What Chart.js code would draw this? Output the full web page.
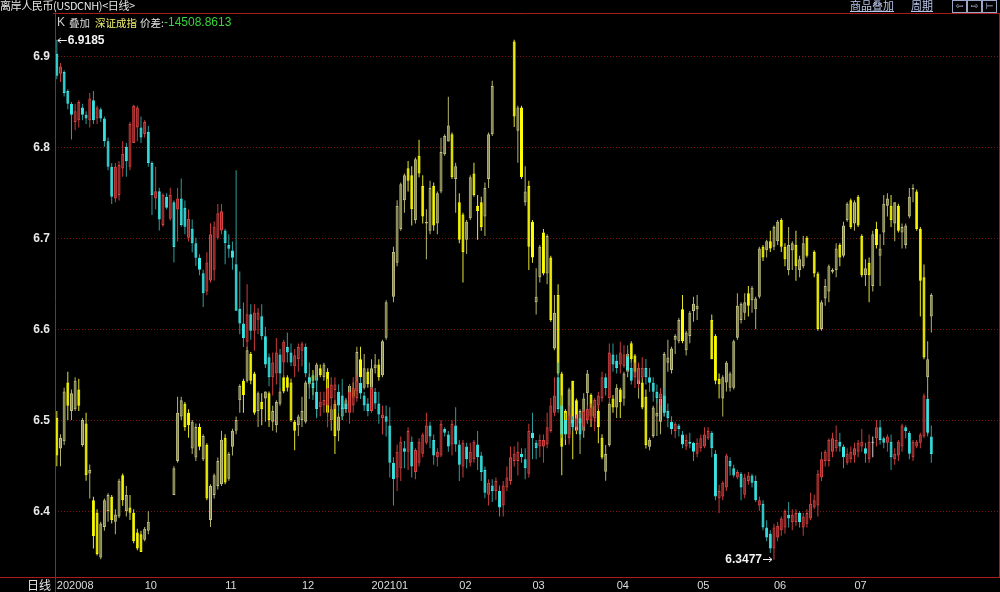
<!DOCTYPE html>
<html><head><meta charset="utf-8">
<script src="https://cdn.jsdelivr.net/npm/chart.js@4/dist/chart.umd.min.js"></script>
<style>
html,body{margin:0;padding:0;background:#000;overflow:hidden}
#wrap{position:relative;width:1000px;height:592px;background:#000}
#c{position:absolute;left:0;top:0}
.t{position:absolute;white-space:nowrap;font-family:"Noto Sans CJK SC","DejaVu Sans",sans-serif;font-size:11px;line-height:13px}
.n{font-family:"Liberation Sans",Arial,sans-serif}
.u{text-decoration:underline;color:#b8c4e8}
.bx{position:absolute;top:0;width:13px;height:11px;border:1px solid #9aa6c8;color:#b8c4e8;font-size:9px;line-height:11px;text-align:center;font-family:"DejaVu Sans",sans-serif}
</style></head><body>
<div id="wrap">
<canvas id="c" width="1000" height="592"></canvas>
<div class="t" style="left:0;top:-1px;color:#e6e6e6;letter-spacing:-0.4px">离岸人民币(USDCNH)&lt;日线&gt;</div>
<div class="t n" style="left:57px;top:16px;color:#d0d0d0;font-size:12px">K</div>
<div class="t" style="left:69px;top:16px;color:#d8d8d8;font-size:10.5px">叠加</div>
<div class="t" style="left:95px;top:16px;color:#f0f070;font-size:10.5px">深证成指</div>
<div class="t" style="left:140px;top:16px;color:#e0e0e0;font-size:10.5px">价差:</div>
<div class="t n" style="left:164px;top:16px;color:#3cd23c;font-size:12px">-14508.8613</div>
<div class="t u" style="left:850px;top:-1px">商品叠加</div>
<div class="t u" style="left:911px;top:-1px">周期</div>
<div class="bx" style="left:952px">⇦</div>
<div class="bx" style="left:967px">⇨</div>
<div class="bx" style="left:982px">⊢</div>
<div class="t" style="left:27px;top:578px;color:#e6e6e6;font-size:12px">日线</div>
</div>
<script>
// ---- tick labels ----
const monthIdx = [0,24,46,67,86,110,130,153,175,196,218];
const monthLabels = ['202008','10','11','12','202101','02','03','04','05','06','07'];
const yTicks = [6.4,6.5,6.6,6.7,6.8,6.9];
const N_SLOTS = 258;

// ---- USDCNH daily OHLC ----
const usdO = [6.903,6.881,6.883,6.862,6.848,6.828,6.830,6.844,6.836,6.830,
6.852,6.832,6.842,6.832,6.807,6.779,6.744,6.748,6.777,6.801,
6.779,6.805,6.822,6.822,6.815,6.817,6.783,6.744,6.752,6.715,
6.746,6.722,6.740,6.732,6.744,6.734,6.701,6.711,6.695,6.679,
6.662,6.642,6.654,6.666,6.701,6.709,6.709,6.693,6.687,6.672,
6.623,6.607,6.587,6.617,6.599,6.611,6.615,6.593,6.570,6.548,
6.552,6.573,6.564,6.581,6.575,6.560,6.568,6.577,6.581,6.548,
6.542,6.532,6.515,6.517,6.517,6.525,6.534,6.532,6.528,6.519,
6.509,6.517,6.525,6.542,6.528,6.519,6.511,6.532,6.519,6.503,
6.505,6.495,6.454,6.438,6.448,6.470,6.466,6.477,6.444,6.454,
6.464,6.476,6.495,6.479,6.460,6.462,6.491,6.485,6.474,6.495,
6.474,6.450,6.472,6.454,6.458,6.474,6.462,6.446,6.419,6.429,
6.423,6.423,6.407,6.427,6.434,6.456,6.456,6.464,6.458,6.442,
6.487,6.476,6.472,6.472,6.474,6.489,6.509,6.548,6.517,6.501,
6.481,6.501,6.493,6.503,6.493,6.501,6.501,6.503,6.517,6.525,
6.548,6.525,6.573,6.566,6.562,6.560,6.571,6.558,6.548,6.544,
6.548,6.558,6.548,6.542,6.532,6.525,6.528,6.511,6.499,6.489,
6.495,6.485,6.472,6.477,6.476,6.464,6.470,6.472,6.481,6.487,
6.464,6.415,6.417,6.427,6.456,6.448,6.438,6.442,6.419,6.434,
6.440,6.434,6.407,6.409,6.383,6.376,6.360,6.372,6.380,6.383,
6.397,6.389,6.389,6.399,6.383,6.387,6.393,6.405,6.407,6.438,
6.456,6.456,6.466,6.470,6.477,6.472,6.454,6.458,6.462,6.466,
6.472,6.470,6.458,6.476,6.481,6.493,6.481,6.476,6.477,6.458,
6.462,6.472,6.493,6.487,6.460,6.472,6.476,6.483,6.524,6.483];
const usdH = [6.9185,6.893,6.885,6.864,6.850,6.848,6.852,6.848,6.840,6.860,
6.862,6.846,6.844,6.834,6.811,6.783,6.783,6.785,6.807,6.805,
6.828,6.847,6.846,6.834,6.830,6.824,6.785,6.779,6.756,6.750,
6.750,6.756,6.742,6.756,6.766,6.742,6.732,6.721,6.701,6.683,
6.666,6.685,6.717,6.719,6.738,6.738,6.711,6.705,6.697,6.775,
6.664,6.630,6.650,6.628,6.628,6.624,6.628,6.603,6.574,6.575,
6.591,6.579,6.589,6.597,6.585,6.579,6.585,6.587,6.585,6.564,
6.552,6.548,6.532,6.532,6.546,6.548,6.548,6.540,6.546,6.525,
6.540,6.548,6.550,6.548,6.532,6.525,6.540,6.536,6.532,6.517,
6.517,6.515,6.460,6.474,6.483,6.478,6.493,6.483,6.470,6.481,
6.487,6.509,6.499,6.485,6.470,6.501,6.493,6.489,6.501,6.515,
6.479,6.479,6.476,6.476,6.479,6.489,6.466,6.450,6.436,6.436,
6.438,6.429,6.434,6.450,6.472,6.472,6.477,6.470,6.470,6.497,
6.509,6.479,6.485,6.485,6.509,6.525,6.548,6.564,6.528,6.509,
6.517,6.505,6.507,6.509,6.513,6.517,6.519,6.525,6.532,6.554,
6.552,6.585,6.585,6.573,6.587,6.583,6.583,6.566,6.564,6.564,
6.570,6.568,6.558,6.548,6.540,6.536,6.536,6.519,6.505,6.499,
6.497,6.489,6.485,6.487,6.477,6.481,6.485,6.493,6.493,6.489,
6.468,6.430,6.434,6.464,6.460,6.452,6.446,6.444,6.442,6.444,
6.442,6.440,6.417,6.413,6.391,6.380,6.387,6.389,6.395,6.403,
6.411,6.403,6.403,6.401,6.399,6.403,6.421,6.419,6.446,6.466,
6.468,6.481,6.487,6.495,6.487,6.474,6.470,6.472,6.476,6.479,
6.491,6.476,6.485,6.483,6.501,6.501,6.483,6.485,6.485,6.470,
6.479,6.497,6.495,6.489,6.479,6.479,6.487,6.530,6.526,6.495];
const usdL = [6.875,6.872,6.856,6.842,6.809,6.819,6.822,6.830,6.826,6.822,
6.826,6.826,6.828,6.801,6.775,6.738,6.740,6.742,6.768,6.768,
6.775,6.805,6.807,6.805,6.811,6.779,6.726,6.732,6.709,6.713,
6.732,6.720,6.674,6.697,6.713,6.705,6.697,6.685,6.670,6.660,
6.625,6.638,6.652,6.654,6.699,6.705,6.672,6.679,6.666,6.621,
6.595,6.581,6.579,6.589,6.577,6.595,6.589,6.558,6.538,6.528,
6.540,6.536,6.548,6.564,6.560,6.548,6.554,6.560,6.548,6.524,
6.523,6.503,6.505,6.509,6.493,6.497,6.513,6.509,6.501,6.509,
6.497,6.509,6.521,6.524,6.511,6.505,6.509,6.513,6.497,6.485,
6.483,6.438,6.407,6.423,6.434,6.448,6.446,6.438,6.436,6.450,
6.460,6.474,6.470,6.452,6.450,6.460,6.483,6.466,6.462,6.466,
6.434,6.438,6.448,6.450,6.454,6.446,6.434,6.415,6.407,6.411,
6.413,6.395,6.395,6.423,6.430,6.450,6.440,6.454,6.436,6.438,
6.458,6.458,6.460,6.454,6.470,6.487,6.505,6.509,6.481,6.479,
6.474,6.489,6.489,6.479,6.489,6.497,6.497,6.489,6.513,6.521,
6.528,6.519,6.554,6.552,6.552,6.558,6.552,6.540,6.536,6.536,
6.546,6.540,6.532,6.521,6.519,6.517,6.505,6.493,6.485,6.481,
6.483,6.470,6.468,6.470,6.456,6.460,6.466,6.470,6.479,6.460,
6.413,6.399,6.413,6.423,6.440,6.438,6.436,6.413,6.415,6.430,
6.427,6.411,6.401,6.380,6.368,6.355,6.3477,6.368,6.374,6.376,
6.383,6.380,6.385,6.383,6.374,6.383,6.391,6.403,6.395,6.434,
6.450,6.450,6.460,6.466,6.466,6.448,6.452,6.454,6.454,6.460,
6.466,6.454,6.454,6.460,6.472,6.474,6.470,6.466,6.446,6.452,
6.456,6.466,6.481,6.458,6.456,6.470,6.470,6.481,6.483,6.454];
const usdC = [6.879,6.889,6.860,6.848,6.836,6.840,6.850,6.836,6.832,6.854,
6.830,6.844,6.832,6.807,6.779,6.746,6.779,6.781,6.793,6.785,
6.826,6.846,6.844,6.811,6.828,6.783,6.748,6.752,6.721,6.748,
6.734,6.748,6.691,6.744,6.715,6.713,6.722,6.695,6.679,6.666,
6.640,6.674,6.705,6.713,6.728,6.730,6.695,6.689,6.679,6.621,
6.607,6.591,6.617,6.599,6.619,6.619,6.593,6.562,6.548,6.564,
6.575,6.552,6.587,6.575,6.564,6.572,6.581,6.585,6.552,6.542,
6.536,6.513,6.521,6.523,6.536,6.540,6.540,6.517,6.513,6.513,
6.532,6.536,6.544,6.530,6.517,6.511,6.536,6.519,6.507,6.507,
6.499,6.454,6.436,6.466,6.477,6.466,6.489,6.450,6.468,6.477,
6.485,6.495,6.483,6.462,6.466,6.497,6.487,6.472,6.497,6.474,
6.452,6.476,6.458,6.466,6.477,6.460,6.444,6.421,6.432,6.423,
6.434,6.405,6.429,6.438,6.460,6.464,6.466,6.460,6.448,6.489,
6.481,6.470,6.479,6.479,6.493,6.517,6.528,6.513,6.485,6.485,
6.507,6.493,6.503,6.485,6.511,6.513,6.515,6.523,6.528,6.548,
6.536,6.575,6.562,6.558,6.575,6.573,6.556,6.544,6.554,6.558,
6.558,6.548,6.542,6.532,6.525,6.530,6.509,6.503,6.491,6.497,
6.491,6.474,6.479,6.475,6.466,6.476,6.481,6.485,6.489,6.470,
6.417,6.423,6.432,6.462,6.450,6.440,6.444,6.427,6.438,6.440,
6.432,6.413,6.413,6.383,6.372,6.360,6.383,6.385,6.393,6.401,
6.393,6.397,6.399,6.389,6.395,6.399,6.409,6.413,6.442,6.458,
6.466,6.479,6.481,6.479,6.472,6.460,6.464,6.466,6.470,6.476,
6.477,6.464,6.477,6.476,6.493,6.479,6.476,6.483,6.460,6.464,
6.477,6.495,6.489,6.464,6.477,6.477,6.485,6.528,6.487,6.4636];

// ---- 深证成指 overlay OHLC (null = A-share holiday) ----
const szO = [13652,13439,13489,13902,13701,13714,13852,13464,13614,13264,
13076,12988,12675,12888,13001,13101,12925,12963,13251,13001,
13026,12988,12850,12838,12800,12863,null,null,null,null,
null,null,13113,13351,13664,13752,13689,13439,13376,13589,
13364,13464,12938,13113,13176,13188,13514,13226,13451,13564,
13777,13914,13914,14102,13964,13701,13764,13789,13827,13626,
13601,13752,13939,13939,13902,13627,13601,13639,13627,13889,
13952,13914,14002,13939,13977,13639,13752,13564,13664,13714,
13739,13852,13839,14065,13864,13977,13864,14002,14027,13952,
14215,null,14503,14741,14978,15179,15404,15354,15041,15492,
15279,15016,14966,15279,15016,15241,15504,15592,15642,15329,
15166,15079,14903,15053,15367,15141,15166,15066,15329,15642,
null,null,null,null,null,16293,15667,15830,15166,15279,
15028,14465,14640,14953,14665,14778,14140,14515,13964,13702,
13539,13914,13777,13614,13564,13827,13814,13664,13702,13514,
13276,13464,13789,13727,13852,13789,13977,14177,14090,13889,
13902,13802,13451,13526,13664,13627,13689,14040,13989,14202,
14190,14415,14127,14227,14403,14415,null,null,null,14340,
14227,13927,13789,13902,13864,13864,14215,14340,14390,14528,
14478,14415,14503,14853,14828,14891,14853,14891,15041,14853,
14691,14828,14866,14691,14716,14916,null,14816,14665,14277,
14490,14540,14678,14691,14866,14791,15041,15179,15016,15204,
14928,14653,14741,14578,14978,14791,14953,15141,15141,15016,
15141,14953,14866,15066,15254,15241,14978,14640,13939,14365];
const szH = [13702,13539,13864,13977,13852,13939,13927,13652,13689,13326,
13101,13013,12925,13088,13126,13113,13013,13226,13264,13176,
13113,13013,12876,12863,12888,12999,null,null,null,null,
null,null,13314,13802,13802,13764,13714,13639,13614,13614,
13539,13476,13188,13264,13376,13564,13539,13414,13577,13664,
13889,13927,14152,14115,13977,13839,13827,13839,13839,13739,
13777,13864,13952,13952,13927,13639,13677,13802,13914,13964,
13989,14040,14027,14040,14002,13739,13777,13689,13752,13789,
13889,13902,14152,14152,14102,14002,14065,14102,14065,14202,
14478,null,14853,15179,15304,15367,15454,15417,15479,15604,
15354,15116,15316,15304,15241,15617,15642,15905,15654,15442,
15229,15091,15041,15354,15442,15216,15204,15304,15654,16017,
null,null,null,null,null,16305,15842,15842,15417,15316,
15041,14703,14866,14978,14941,14791,14515,14590,13977,13714,
13864,13914,13789,13714,13827,13989,13827,13752,13752,13539,
13464,13764,13814,13889,13864,13977,14127,14190,14102,14027,
13939,13852,13514,13739,13789,13802,14115,14202,14152,14240,
14353,14515,14265,14403,14503,14515,null,null,null,14378,
14240,13964,13952,14052,13977,14202,14528,14465,14528,14578,
14578,14503,14853,14866,14903,14966,15003,15041,15053,14878,
14991,14891,14966,14791,14928,14928,null,14828,14678,14478,
14628,14728,14703,14878,14878,15028,15166,15191,15179,15216,
14941,14766,14778,14966,15028,14941,15216,15229,15216,15166,
15154,15016,15016,15266,15291,15254,14991,14728,14190,14528];
const szL = [13314,13314,13464,13639,13639,13701,13701,13451,13213,13088,
12738,12688,12662,12863,12925,12913,12838,12951,13038,12963,
12938,12775,12725,12713,12788,12838,null,null,null,null,
null,null,13113,13339,13639,13564,13514,13401,13351,13426,
13351,13076,12888,13088,13151,13176,13188,13213,13389,13539,
13689,13689,13902,13889,13676,13589,13601,13627,13589,13564,
13551,13739,13827,13839,13626,13426,13526,13589,13614,13864,
13814,13664,13939,13914,13664,13564,13401,13489,13639,13689,
13714,13789,13814,13914,13852,13864,13839,13964,13914,13939,
14202,null,14465,14716,14966,15091,15241,15003,15016,15341,
15016,14766,14941,14966,14941,15229,15492,15592,15329,15091,
14878,14603,14803,15041,15204,14903,14966,14928,15266,15629,
null,null,null,null,null,15692,15442,15329,15141,14691,
14741,14378,14603,14653,14590,14328,14127,13952,13251,13464,
13514,13364,13539,13401,13514,13614,13589,13627,13476,13364,
13213,13451,13689,13652,13652,13739,13939,14040,13939,13789,
13714,13439,13426,13514,13526,13539,13664,13977,13964,14102,
14177,14177,14090,14177,14328,14340,null,null,null,14065,
13889,13789,13664,13839,13839,13852,14202,14315,14340,14365,
14390,14277,14490,14753,14778,14816,14828,14866,14816,14716,
14653,14691,14615,14640,14703,14778,null,14640,14265,14265,
14440,14465,14665,14640,14716,14778,15028,14978,14966,14991,
14640,14578,14465,14540,14841,14578,14866,15066,14991,14891,
14953,14841,14841,15053,15166,14966,14365,14065,13539,14252];
const szC = [13389,13514,13839,13739,13827,13914,13739,13639,13251,13289,
12826,12700,12913,13076,13113,12938,12976,13213,13076,13113,
12988,12788,12738,12713,12876,12925,null,null,null,null,
null,null,13301,13689,13777,13589,13601,13627,13589,13451,
13526,13088,13176,13251,13351,13501,13201,13401,13564,13639,
13877,13814,14127,13914,13689,13827,13714,13839,13639,13701,
13764,13839,13839,13864,13639,13564,13664,13701,13902,13939,
13914,14027,13952,14027,13689,13714,13526,13664,13727,13777,
13877,13802,14115,13939,14002,13889,14002,14027,13939,14190,
14465,null,14816,15141,15291,15354,15316,15116,15467,15367,
15066,15028,15266,15003,15229,15517,15629,15704,15341,15417,
14903,14816,15028,15341,15216,15104,14991,15266,15642,15980,
null,null,null,null,null,15767,15830,15341,15241,14853,
14778,14503,14853,14665,14928,14340,14390,13964,13451,13539,
13852,13614,13564,13702,13789,13964,13664,13739,13589,13376,
13401,13752,13727,13864,13764,13964,14102,14065,13977,14002,
13727,13464,13501,13727,13689,13789,14102,14077,14140,14227,
14340,14190,14252,14390,14453,14440,null,null,null,14065,
13914,13889,13939,14040,13964,14190,14440,14453,14465,14440,
14565,14490,14841,14778,14891,14841,14991,15028,14853,14766,
14866,14878,14716,14766,14878,14791,null,14665,14277,14465,
14578,14716,14690,14841,14778,15003,15154,14991,15166,15003,
14653,14703,14653,14941,14866,14841,15154,15191,15041,15166,
14966,14991,15003,15204,15266,14978,14615,14077,14065,14515.33];

// ---- axis ranges ----
const Y_MIN = 6.32865, Y_MAX = 6.94665;
const Y2_MIN = 12538, Y2_MAX = 16485;

function dirOf(O,C){return O.map((o,i)=>o==null?0:(C[i]>o?1:(C[i]<o?-1:0)));}
const usdDir = dirOf(usdO,usdC), szDir = dirOf(szO,szC);
const pick = (dir,up,down,flat)=>dir.map(d=>d>0?up:(d<0?down:flat));

const slotLabels = Array.from({length:N_SLOTS},(_,i)=>String(i));
const common = {grouped:false, borderSkipped:false, inflateAmount:0, minBarLength:1};

const datasets = [
 Object.assign({label:'深证成指影线', yAxisID:'y2', order:4, barThickness:1,
   data: szL.map((l,i)=>l==null?null:[l,szH[i]]),
   backgroundColor: pick(szDir,'#b4b46e','#e6e62a','#d0d0d0'), borderWidth:0}, common),
 Object.assign({label:'深证成指', yAxisID:'y2', order:3, barThickness:3,
   data: szO.map((o,i)=>o==null?null:[Math.min(o,szC[i]),Math.max(o,szC[i])]),
   backgroundColor: pick(szDir,'#85854f','#ffff00','#d0d0d0'),
   borderColor: pick(szDir,'#c4c486','#ffff00','#d0d0d0'), borderWidth:1}, common),
 Object.assign({label:'USDCNH影线', yAxisID:'y', order:2, barThickness:1,
   data: usdL.map((l,i)=>[l,usdH[i]]),
   backgroundColor: pick(usdDir,'#c83c3c','#2f9c9c','#d8d8d8'), borderWidth:0}, common),
 Object.assign({label:'USDCNH', yAxisID:'y', order:1, barThickness:3,
   data: usdO.map((o,i)=>[Math.min(o,usdC[i]),Math.max(o,usdC[i])]),
   backgroundColor: pick(usdDir,'#8e2626','#3cecec','#e8e8e8'),
   borderColor: pick(usdDir,'#dc4444','#3cecec','#e8e8e8'), borderWidth:1}, common)
];

const frame = {id:'frame', afterDraw(chart){
  const c = chart.ctx; c.save();
  c.strokeStyle = '#a81c1c'; c.lineWidth = 1;
  c.beginPath();
  c.moveTo(53,13.5); c.lineTo(1000,13.5);
  c.moveTo(55.5,13); c.lineTo(55.5,592);
  c.moveTo(0,577.5); c.lineTo(1000,577.5);
  c.moveTo(999.5,13); c.lineTo(999.5,577);
  c.stroke(); c.restore();
}};

const annot = {id:'annot', afterDraw(chart){
  const c = chart.ctx, x = chart.scales.x, y = chart.scales.y;
  let iMax = 0, iMin = 0;
  usdH.forEach((v,i)=>{ if(v>usdH[iMax]) iMax=i; });
  usdL.forEach((v,i)=>{ if(v<usdL[iMin]) iMin=i; });
  c.save();
  c.font = 'bold 12px "Liberation Sans", Arial, sans-serif';
  c.fillStyle = '#f2f2f2'; c.strokeStyle = '#f2f2f2'; c.lineWidth = 1;
  c.textBaseline = 'middle';
  let px = x.getPixelForValue(iMax), py = Math.round(y.getPixelForValue(usdH[iMax]))+0.5;
  c.beginPath(); c.moveTo(px+1,py); c.lineTo(px+10,py);
  c.moveTo(px+1,py); c.lineTo(px+4,py-2.5); c.moveTo(px+1,py); c.lineTo(px+4,py+2.5); c.stroke();
  c.textAlign = 'left'; c.fillText(usdH[iMax].toFixed(4), px+11, py);
  px = x.getPixelForValue(iMin); py = Math.round(y.getPixelForValue(usdL[iMin]))-0.5;
  c.beginPath(); c.moveTo(px-11,py); c.lineTo(px-2,py);
  c.moveTo(px-2,py); c.lineTo(px-5,py-2.5); c.moveTo(px-2,py); c.lineTo(px-5,py+2.5); c.stroke();
  c.textAlign = 'right'; c.fillText(usdL[iMin].toFixed(4), px-12, py);
  c.restore();
}};

new Chart(document.getElementById('c'), {
  type:'bar',
  data:{labels:slotLabels, datasets},
  options:{
    responsive:false, animation:false, events:[],
    layout:{padding:{top:14,right:1,left:0,bottom:0}},
    plugins:{legend:{display:false}, tooltip:{enabled:false}, title:{display:false}},
    scales:{
      x:{type:'category', offset:true,
        grid:{display:false, drawTicks:false, tickLength:0}, border:{display:false},
        afterBuildTicks:s=>{ s.ticks = monthIdx.map(v=>({value:v})); },
        afterFit:s=>{ s.height = 15; },
        ticks:{autoSkip:false, maxRotation:0, minRotation:0, align:'start', padding:2,
          color:'#dcdcdc', font:{size:11, family:'"Liberation Sans", Arial, sans-serif'},
          callback:v=>monthLabels[monthIdx.indexOf(v)]}},
      y:{type:'linear', position:'left', min:Y_MIN, max:Y_MAX,
        grid:{color:'#7a1414', lineWidth:1, drawTicks:false},
        border:{display:false, dash:[1,2]},
        afterBuildTicks:s=>{ s.ticks = yTicks.map(v=>({value:v})); },
        afterFit:s=>{ s.width = 55; },
        ticks:{padding:5, color:'#e8e8e8', font:{size:12, weight:'bold', family:'"Liberation Sans", Arial, sans-serif'},
          callback:v=>Number(v).toFixed(1)}},
      y2:{type:'linear', display:false, min:Y2_MIN, max:Y2_MAX}
    }
  },
  plugins:[frame, annot]
});
</script>
</body></html>
